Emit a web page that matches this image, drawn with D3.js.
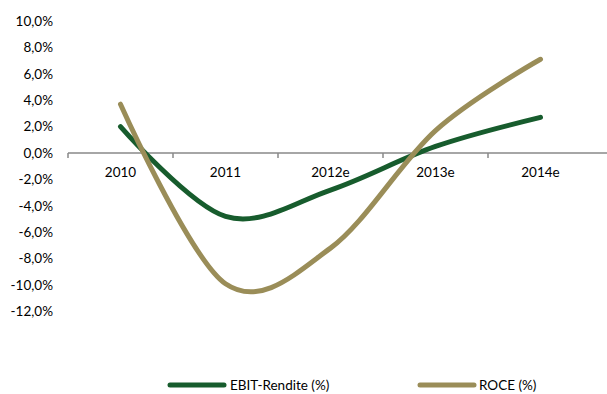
<!DOCTYPE html>
<html><head><meta charset="utf-8">
<script src="https://cdn.jsdelivr.net/npm/d3@7"></script>
<style>body{margin:0;background:#fff}svg{display:block}text{font-family:Lato,"Open Sans",sans-serif;font-size:13.5px;fill:#000}</style>
</head><body><svg id="c" width="607" height="394"></svg>
<script>
const categories = ["2010","2011","2012e","2013e","2014e"];
const ebit = [2.0, -4.8, -2.8, 0.5, 2.7];
const roce = [3.7, -9.9, -7.2, 1.7, 7.1];
const yTicks = [10,8,6,4,2,0,-2,-4,-6,-8,-10,-12];
const seriesNames = ["EBIT-Rendite (%)","ROCE (%)"];
const colors = ["#175c2d","#9a8d58"];

const svg = d3.select("#c");
const x = d3.scaleBand().domain(categories).range([68, 593]);
const y = d3.scaleLinear().domain([-12, 10]).range([311.5, 21]);
const fmt = v => v.toFixed(1).replace(".", ",") + "%";

svg.append("g").selectAll("text").data(yTicks).join("text")
  .attr("x", 53).attr("y", d => y(d)).attr("dy", "0.35em").attr("text-anchor", "end").text(fmt);

const axis = svg.append("g").attr("transform", `translate(0,${y(0)})`);
axis.append("line").attr("x1", 68).attr("x2", 607).attr("stroke", "#898989").attr("stroke-width", 1.5);
const bounds = categories.map(c => x(c)).concat([x.range()[1]]);
axis.selectAll("line.t").data(bounds.slice(0,5)).join("line").attr("class","t")
  .attr("x1", d => d).attr("x2", d => d).attr("y1", 0).attr("y2", 5).attr("stroke", "#898989").attr("stroke-width", 1.5);
axis.selectAll("text").data(categories).join("text")
  .attr("x", d => x(d) + x.bandwidth()/2).attr("y", 24).attr("text-anchor", "middle").text(d => d);

const line = d3.line().x((d,i) => x(categories[i]) + x.bandwidth()/2).y(d => y(d)).curve(d3.curveCardinal.tension(0));
[ebit, roce].forEach((s, k) => {
  svg.append("path").attr("d", line(s)).attr("fill", "none").attr("stroke", colors[k])
    .attr("stroke-width", 5).attr("stroke-linecap", "round");
});

const lg = [[170, 230], [420, 479]];
seriesNames.forEach((n, k) => {
  svg.append("line").attr("x1", lg[k][0]).attr("x2", lg[k][0] + 54).attr("y1", 385).attr("y2", 385)
    .attr("stroke", colors[k]).attr("stroke-width", 5).attr("stroke-linecap", "round");
  svg.append("text").attr("x", lg[k][1]).attr("y", 385).attr("dy", "0.35em").text(n);
});
</script></body></html>
